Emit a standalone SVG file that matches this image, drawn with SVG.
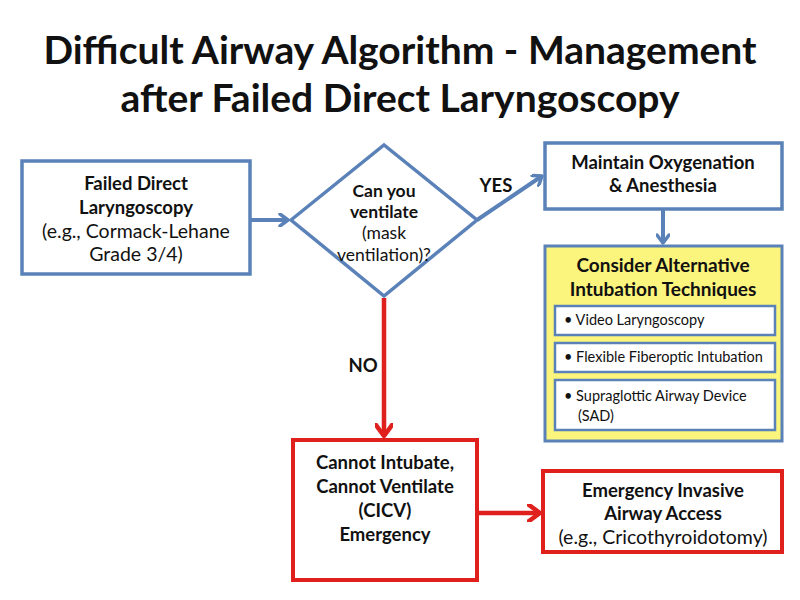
<svg xmlns="http://www.w3.org/2000/svg" width="800" height="600" viewBox="0 0 800 600">
<defs>
<style>
text{font-family:Lato,"Open Sans","Liberation Sans",sans-serif;fill:#111;text-anchor:middle}
.t{font-size:39px;font-weight:bold}
.b{font-size:18.5px;font-weight:bold}
.n{font-size:19.5px}
.d{font-size:17.5px}
.s{font-size:14.5px;text-anchor:start}
.blue{fill:#fff;stroke:#5a82b8;stroke-width:3.5}
.red{fill:#fff;stroke:#e0201c;stroke-width:4}
.yel{fill:#fbf47d;stroke:#5a82b8;stroke-width:3}
.in{fill:#fff;stroke:#5a82b8;stroke-width:2.5}
.cb{fill:none;stroke:#5a82b8;stroke-width:4}
.cr{fill:none;stroke:#e0201c;stroke-width:4.5}
</style>
<marker id="ab" markerWidth="14" markerHeight="14" refX="10" refY="7" orient="auto" markerUnits="userSpaceOnUse" viewBox="0 0 14 14">
<path d="M2,1 L10,7 L2,13" fill="none" stroke="#5a82b8" stroke-width="3.5" stroke-linecap="round" stroke-linejoin="round"/>
</marker>
<marker id="ar" markerWidth="18" markerHeight="18" refX="13" refY="9" orient="auto" markerUnits="userSpaceOnUse" viewBox="0 0 18 18">
<path d="M2,1 L13,9 L2,17" fill="none" stroke="#e0201c" stroke-width="4.5" stroke-linecap="round" stroke-linejoin="round"/>
</marker>
</defs>
<rect width="800" height="600" fill="#fff"/>
<g id="title">
<text class="t" x="400" y="64">Difficult Airway Algorithm - Management</text>
<text class="t" x="400" y="112">after Failed Direct Laryngoscopy</text>
</g>
<g id="connectors">
<line class="cb" x1="250" y1="220" x2="288" y2="220" marker-end="url(#ab)"/>
<line class="cb" x1="477" y1="220" x2="542" y2="176" marker-end="url(#ab)"/>
<line class="cb" x1="663" y1="210" x2="663" y2="243" marker-end="url(#ab)"/>
<line class="cr" x1="384" y1="298" x2="384" y2="436" marker-end="url(#ar)"/>
<line class="cr" x1="478" y1="513" x2="540" y2="513" marker-end="url(#ar)"/>
<text class="b" x="496" y="192">YES</text>
<text class="b" x="363" y="372">NO</text>
</g>
<g id="failed">
<rect class="blue" x="22" y="161" width="228" height="113"/>
<text class="b" x="136" y="190">Failed Direct</text>
<text class="b" x="136" y="214">Laryngoscopy</text>
<text class="n" x="136" y="238">(e.g., Cormack-Lehane</text>
<text class="n" x="136" y="261">Grade 3/4)</text>
</g>
<g id="decision">
<polygon class="blue" points="291,220 384,145 477,220 384,296"/>
<text class="b d" x="384" y="197">Can you</text>
<text class="b d" x="384" y="218">ventilate</text>
<text class="d" x="384" y="239">(mask</text>
<text class="d" x="384" y="261">ventilation)?</text>
</g>
<g id="maintain">
<rect class="blue" x="545" y="143" width="237" height="66"/>
<text class="b" x="663" y="169">Maintain Oxygenation</text>
<text class="b" x="663" y="192">&amp; Anesthesia</text>
</g>
<g id="alternatives">
<rect class="yel" x="545" y="246" width="237" height="195"/>
<text class="b" x="663" y="272" style="font-size:19px">Consider Alternative</text>
<text class="b" x="663" y="296" style="font-size:19px">Intubation Techniques</text>
<rect class="in" x="555" y="306" width="220" height="29"/>
<text class="s" x="564" y="325">•   Video Laryngoscopy</text>
<rect class="in" x="555" y="343" width="220" height="29"/>
<text class="s" x="564" y="362">•   Flexible Fiberoptic Intubation</text>
<rect class="in" x="555" y="380" width="220" height="50"/>
<text class="s" x="564" y="401">•   Supraglottic Airway Device</text>
<text class="s" x="578" y="421">(SAD)</text>
</g>
<g id="cicv">
<rect class="red" x="293" y="440" width="184" height="140"/>
<text class="b" x="385" y="469">Cannot Intubate,</text>
<text class="b" x="385" y="493">Cannot Ventilate</text>
<text class="b" x="385" y="517">(CICV)</text>
<text class="b" x="385" y="541">Emergency</text>
</g>
<g id="invasive">
<rect class="red" x="543" y="471" width="239" height="81"/>
<text class="b" x="663" y="497">Emergency Invasive</text>
<text class="b" x="663" y="520">Airway Access</text>
<text class="n" x="663" y="544">(e.g., Cricothyroidotomy)</text>
</g>
</svg>
